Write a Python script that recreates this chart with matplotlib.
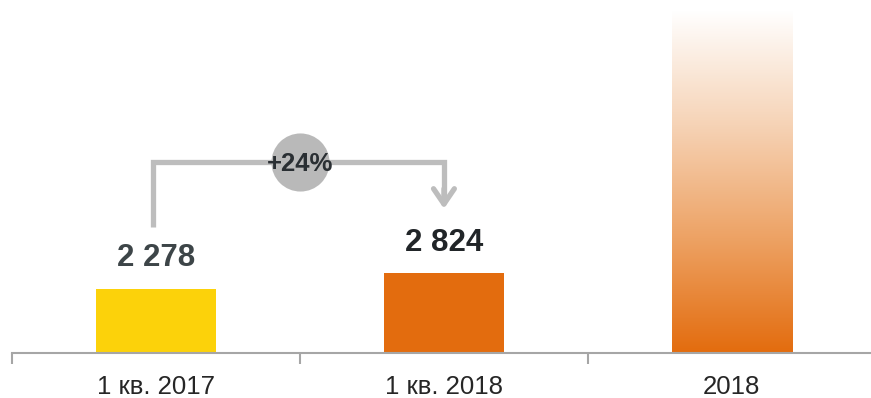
import matplotlib
matplotlib.use("Agg")
import matplotlib.pyplot as plt
import numpy as np
from matplotlib.colors import LinearSegmentedColormap

plt.rcParams["font.family"] = ["Liberation Sans", "DejaVu Sans"]

# Data
categories = ["1 кв. 2017", "1 кв. 2018", "2018"]
values = [2278, 2824, 12100]
value_labels = ["2 278", "2 824", None]
growth_label = "+24%"

YELLOW = "#FCD20A"
ORANGE = "#E36C0E"
GRAY = "#BDBDBD"
label_colors = ["#3D4548", "#212528", None]

fig = plt.figure(figsize=(8.71, 3.98), dpi=100)
ax = fig.add_axes([12 / 871, 45 / 398, 859 / 871, 353 / 398])

x = np.arange(len(categories))
bar_w = 0.417

ax.bar(x[0], values[0], width=bar_w, color=YELLOW, zorder=2)
ax.bar(x[1], values[1], width=bar_w, color=ORANGE, zorder=2)

# Faded bar for the full year: orange at the base, white at the top
fade = LinearSegmentedColormap.from_list(
    "fade", [ORANGE, "#EDA264", "#F6D3B6", "#FFFFFF"], N=256
)
grad = np.linspace(0, 1, 256).reshape(-1, 1)
ax.imshow(
    grad,
    cmap=fade,
    aspect="auto",
    origin="lower",
    extent=(x[2] - bar_w / 2, x[2] + bar_w / 2, 0, values[2]),
    zorder=2,
)

ax.set_xlim(-0.5, 2.483)
ax.set_ylim(0, 12470)

# Value labels over the bars
for xi, v, lab, col in zip(x, values, value_labels, label_colors):
    if lab:
        ax.annotate(
            lab,
            xy=(xi, v),
            xytext=(0, 22),
            textcoords="offset points",
            ha="center",
            va="center",
            fontsize=22.5,
            fontweight="bold",
            color=col,
        )

# Growth bracket from the first bar to the second one
x_start = x[0] - 0.01
x_end = x[1]
y_start = 4450
y_top = 6750
y_tip = 5000
ax.plot(
    [x_start, x_start, x_end, x_end],
    [y_start, y_top, y_top, y_tip + 300],
    color=GRAY,
    lw=3.8,
    solid_joinstyle="miter",
    solid_capstyle="butt",
    zorder=3,
)
ax.annotate(
    "",
    xy=(x_end, y_tip),
    xytext=(x_end, y_tip + 900),
    arrowprops=dict(arrowstyle="->,head_length=1.1,head_width=0.75", color=GRAY, lw=3.8),
    zorder=3,
)

# Badge with the growth figure
x_mid = 0.5 * (x[0] + x[1])
ax.scatter([x_mid], [y_top], s=1750, color="#B9B9B9", linewidths=0, zorder=4)
ax.text(
    x_mid,
    y_top - 60,
    growth_label,
    ha="center",
    va="center",
    fontsize=18.5,
    fontweight="bold",
    color="#2A2F33",
    zorder=5,
)

# Axes styling
for side in ["top", "right", "left"]:
    ax.spines[side].set_visible(False)
ax.spines["bottom"].set_color("#A6A6A6")
ax.spines["bottom"].set_linewidth(1.5)
ax.set_yticks([])

ax.set_xticks([-0.5, 0.5, 1.5])
ax.set_xticklabels([])
ax.tick_params(axis="x", which="major", length=8, width=1.5, color="#A6A6A6")
ax.set_xticks(x, minor=True)
ax.set_xticklabels(categories, minor=True, fontsize=18.5, color="#262626")
ax.tick_params(axis="x", which="minor", length=0, pad=16)

fig.savefig("out.png", dpi=100)
